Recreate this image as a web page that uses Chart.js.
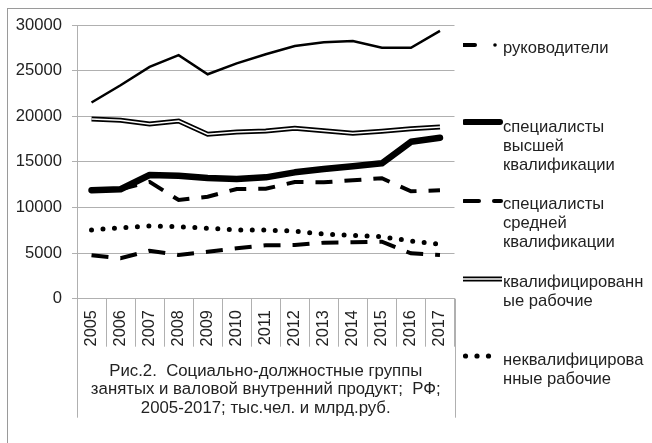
<!DOCTYPE html>
<html>
<head>
<meta charset="utf-8">
<script src="https://cdn.jsdelivr.net/npm/chart.js@4"></script>
<style>
  html, body { margin: 0; padding: 0; background: #fff; }
  #wrap { position: relative; width: 652px; height: 443px; overflow: hidden; font-family: "Liberation Sans", Arial, sans-serif; }
  #frame { position: absolute; left: 7px; top: 8px; width: 700px; height: 500px; border-top: 1px solid #9a9a9a; border-left: 1px solid #9a9a9a; }
  canvas { position: absolute; left: 0; top: 0; }
  .lg { position: absolute; left: 463px; width: 190px; }
  .lg svg { position: absolute; left: 0; }
  .lg .t { position: absolute; left: 40px; font-size: 16.6px; line-height: 19px; color: #222; white-space: nowrap; }
</style>
</head>
<body>
<div id="wrap">
  <div id="frame"></div>
  <canvas id="c" width="652" height="443"></canvas>
  <div id="legend"></div>
</div>
<script>
// ---- data ----
const years = ['2005','2006','2007','2008','2009','2010','2011','2012','2013','2014','2015','2016','2017'];
const topLine      = [21500, 23400, 25400, 26700, 24600, 25800, 26800, 27700, 28100, 28250, 27500, 27500, 29350];
const rukovoditeli = [4760, 4430, 5260, 4790, 5150, 5520, 5850, 5890, 6140, 6180, 6250, 4970, 4790];
const specVysshei  = [11900, 12000, 13560, 13480, 13230, 13120, 13300, 13850, 14210, 14510, 14840, 17200, 17650];
const specSrednei  = [11900, 12000, 12800, 10820, 11180, 12020, 12050, 12790, 12760, 12980, 13200, 11770, 11880];
const kvalRabochie = [19700, 19550, 19150, 19480, 18020, 18270, 18380, 18670, 18410, 18130, 18350, 18630, 18820];
const nekvalRab    = [7530, 7780, 7970, 7890, 7720, 7530, 7530, 7400, 7090, 6950, 6800, 6320, 5960];
const yTicks = [0, 5000, 10000, 15000, 20000, 25000, 30000];
const legendLabels = [
  ['руководители'],
  ['специалисты', 'высшей', 'квалификации'],
  ['специалисты', 'средней', 'квалификации'],
  ['квалифицированн', 'ые рабочие'],
  ['неквалифицирова', 'нные рабочие']
];
const caption = ['Рис.2.  Социально-должностные группы', 'занятых и валовой внутренний продукт;  РФ;', '2005-2017; тыс.чел. и млрд.руб.'];

// ---- legend (HTML) ----
const legendTops = [37.5, 116.5, 194, 272, 349.5];
const swatches = [
  '<line x1="0.5" y1="8" x2="12" y2="8" stroke="#000" stroke-width="4" stroke-linecap="round"/><circle cx="32" cy="8" r="1.8" fill="#000"/>',
  '<line x1="2" y1="8" x2="37" y2="8" stroke="#000" stroke-width="6" stroke-linecap="round"/>',
  '<line x1="1" y1="8" x2="16" y2="8" stroke="#000" stroke-width="4" stroke-linecap="round"/><line x1="31" y1="8" x2="38" y2="8" stroke="#000" stroke-width="4" stroke-linecap="round"/>',
  '<line x1="0" y1="8" x2="39" y2="8" stroke="#000" stroke-width="5"/><line x1="0" y1="8" x2="39" y2="8" stroke="#fff" stroke-width="1.6"/>',
  '<circle cx="2.5" cy="8" r="2.6" fill="#000"/><circle cx="14" cy="8" r="2.6" fill="#000"/><circle cx="25.5" cy="8" r="2.6" fill="#000"/>'
];
const swCenters = [45, 122, 201, 279, 356];
let html = '';
legendLabels.forEach((lines, i) => {
  html += '<div class="lg" style="top:0">' +
    '<svg width="40" height="16" style="top:' + (swCenters[i] - 8) + 'px">' + swatches[i] + '</svg>' +
    '<div class="t" style="top:' + legendTops[i] + 'px">' + lines.join('<br>') + '</div></div>';
});
document.getElementById('legend').innerHTML = html;

// ---- chart ----
const extendLines = {
  id: 'extendLines',
  afterDraw(chart) {
    const {ctx, chartArea} = chart;
    ctx.save();
    ctx.strokeStyle = '#b0b0b0';
    ctx.lineWidth = 1;
    ctx.beginPath();
    [chartArea.left, chartArea.right].forEach(x => {
      const xx = Math.round(x) + 0.5;
      ctx.moveTo(xx, chartArea.bottom);
      ctx.lineTo(xx, chartArea.bottom + 119);
    });
    ctx.stroke();
    ctx.restore();
  }
};

const FONT = '"Liberation Sans", Arial, sans-serif';
const base = { pointRadius: 0, pointHoverRadius: 0, tension: 0, fill: false };
new Chart(document.getElementById('c'), {
  type: 'line',
  data: {
    labels: years,
    datasets: [
      Object.assign({}, base, { label: 'специалисты высшей квалификации', data: specVysshei, borderColor: '#000', borderWidth: 6.5, borderCapStyle: 'round', borderJoinStyle: 'round' }),
      Object.assign({}, base, { label: 'специалисты средней квалификации', data: specSrednei, borderColor: '#000', borderWidth: 4, borderDash: [17, 12] }),
      Object.assign({}, base, { label: 'руководители', data: rukovoditeli, borderColor: '#000', borderWidth: 4, borderDash: [17, 12] }),
      Object.assign({}, base, { label: 'неквалифицированные рабочие', data: nekvalRab, borderColor: '#000', borderWidth: 5, borderDash: [0, 11.5], borderCapStyle: 'round' }),
      Object.assign({}, base, { label: 'inner', data: kvalRabochie, borderColor: '#fff', borderWidth: 1.5 }),
      Object.assign({}, base, { label: 'квалифицированные рабочие', data: kvalRabochie, borderColor: '#000', borderWidth: 5 }),
      Object.assign({}, base, { label: 'top', data: topLine, borderColor: '#000', borderWidth: 2.5 })
    ]
  },
  options: {
    responsive: false,
    animation: false,
    events: [],
    layout: { padding: { left: 0, right: 197.5, top: 25, bottom: 0 } },
    plugins: { legend: { display: false }, tooltip: { enabled: false }, title: { display: false } },
    scales: {
      y: {
        min: 0, max: 30000,
        afterBuildTicks: s => { s.ticks = yTicks.map(v => ({ value: v })); },
        afterFit: s => { s.width = 77; },
        border: { display: true, color: '#b0b0b0', width: 1 },
        grid: { color: '#b0b0b0', lineWidth: 1, tickLength: 5, drawTicks: true },
        ticks: { font: { family: FONT, size: 16.6 }, color: '#222', padding: 10, callback: v => String(v) }
      },
      x: {
        offset: true,
        afterFit: s => { s.height = 144.3; },
        border: { display: true, color: '#b0b0b0', width: 1 },
        grid: { offset: true, drawOnChartArea: false, drawTicks: true, tickLength: 48, color: '#b0b0b0' },
        ticks: { autoSkip: false, minRotation: 90, maxRotation: 90, padding: -36.5,
                 font: { family: FONT, size: 16.3 }, color: '#222' },
        title: { display: true, text: caption, color: '#222', padding: { top: 0, bottom: 26 },
                 font: { family: FONT, size: 16.8, lineHeight: 1.085 } }
      }
    }
  },
  plugins: [extendLines]
});
</script>
</body>
</html>
